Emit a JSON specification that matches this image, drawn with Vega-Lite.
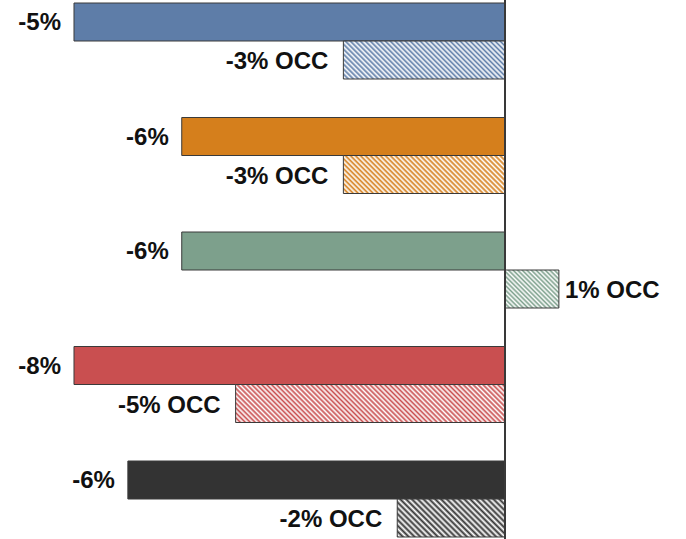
{
"$schema": "https://vega.github.io/schema/vega-lite/v6.json",
"width": 686, "height": 539, "autosize": {"type": "none"}, "padding": 0,
"background": "white",
"config": {"view": {"stroke": null}},
"data": {"values": [
{"region": "R1", "kind": "main", "value": -8, "label": "-5%"},
{"region": "R1", "kind": "occ", "value": -3, "label": "-3% OCC"},
{"region": "R2", "kind": "main", "value": -6, "label": "-6%"},
{"region": "R2", "kind": "occ", "value": -3, "label": "-3% OCC"},
{"region": "R3", "kind": "main", "value": -6, "label": "-6%"},
{"region": "R3", "kind": "occ", "value": 1, "label": "1% OCC"},
{"region": "R4", "kind": "main", "value": -8, "label": "-8%"},
{"region": "R4", "kind": "occ", "value": -5, "label": "-5% OCC"},
{"region": "R5", "kind": "main", "value": -7, "label": "-6%"},
{"region": "R5", "kind": "occ", "value": -2, "label": "-2% OCC"}
]},
"layer": [
{
"encoding": {
"y": {"field": "region", "type": "nominal", "axis": null, "scale": {"domain": ["R1","R2","R3","R4","R5"], "range": [3, 575.5], "paddingInner": 0, "paddingOuter": 0}},
"yOffset": {"field": "kind", "type": "nominal", "scale": {"domain": ["main","occ"], "range": [0, 76], "paddingInner": 0, "paddingOuter": 0}},
"x": {"field": "value", "type": "quantitative", "axis": null, "scale": {"domain": [-9.3735, 3.3596], "nice": false, "zero": false}}
},
"layer": [
{
"mark": {"type": "bar", "stroke": "#3a3a3a", "strokeWidth": 1, "fillOpacity": 1},
"encoding": {
"fill": {
"condition": [
{"test": "datum.region==='R1' && datum.kind==='occ'", "value": {"gradient": "linear", "x1": 0, "y1": 1, "x2": 1.1704, "y2": 0.7248, "stops": [{"offset":0,"color":"#5e7da8"},{"offset":0.0125,"color":"#fff"},{"offset":0.025,"color":"#5e7da8"},{"offset":0.0375,"color":"#fff"},{"offset":0.05,"color":"#5e7da8"},{"offset":0.0625,"color":"#fff"},{"offset":0.075,"color":"#5e7da8"},{"offset":0.0875,"color":"#fff"},{"offset":0.1,"color":"#5e7da8"},{"offset":0.1125,"color":"#fff"},{"offset":0.125,"color":"#5e7da8"},{"offset":0.1375,"color":"#fff"},{"offset":0.15,"color":"#5e7da8"},{"offset":0.1625,"color":"#fff"},{"offset":0.175,"color":"#5e7da8"},{"offset":0.1875,"color":"#fff"},{"offset":0.2,"color":"#5e7da8"},{"offset":0.2125,"color":"#fff"},{"offset":0.225,"color":"#5e7da8"},{"offset":0.2375,"color":"#fff"},{"offset":0.25,"color":"#5e7da8"},{"offset":0.2625,"color":"#fff"},{"offset":0.275,"color":"#5e7da8"},{"offset":0.2875,"color":"#fff"},{"offset":0.3,"color":"#5e7da8"},{"offset":0.3125,"color":"#fff"},{"offset":0.325,"color":"#5e7da8"},{"offset":0.3375,"color":"#fff"},{"offset":0.35,"color":"#5e7da8"},{"offset":0.3625,"color":"#fff"},{"offset":0.375,"color":"#5e7da8"},{"offset":0.3875,"color":"#fff"},{"offset":0.4,"color":"#5e7da8"},{"offset":0.4125,"color":"#fff"},{"offset":0.425,"color":"#5e7da8"},{"offset":0.4375,"color":"#fff"},{"offset":0.45,"color":"#5e7da8"},{"offset":0.4625,"color":"#fff"},{"offset":0.475,"color":"#5e7da8"},{"offset":0.4875,"color":"#fff"},{"offset":0.5,"color":"#5e7da8"},{"offset":0.5125,"color":"#fff"},{"offset":0.525,"color":"#5e7da8"},{"offset":0.5375,"color":"#fff"},{"offset":0.55,"color":"#5e7da8"},{"offset":0.5625,"color":"#fff"},{"offset":0.575,"color":"#5e7da8"},{"offset":0.5875,"color":"#fff"},{"offset":0.6,"color":"#5e7da8"},{"offset":0.6125,"color":"#fff"},{"offset":0.625,"color":"#5e7da8"},{"offset":0.6375,"color":"#fff"},{"offset":0.65,"color":"#5e7da8"},{"offset":0.6625,"color":"#fff"},{"offset":0.675,"color":"#5e7da8"},{"offset":0.6875,"color":"#fff"},{"offset":0.7,"color":"#5e7da8"},{"offset":0.7125,"color":"#fff"},{"offset":0.725,"color":"#5e7da8"},{"offset":0.7375,"color":"#fff"},{"offset":0.75,"color":"#5e7da8"},{"offset":0.7625,"color":"#fff"},{"offset":0.775,"color":"#5e7da8"},{"offset":0.7875,"color":"#fff"},{"offset":0.8,"color":"#5e7da8"},{"offset":0.8125,"color":"#fff"},{"offset":0.825,"color":"#5e7da8"},{"offset":0.8375,"color":"#fff"},{"offset":0.85,"color":"#5e7da8"},{"offset":0.8625,"color":"#fff"},{"offset":0.875,"color":"#5e7da8"},{"offset":0.8875,"color":"#fff"},{"offset":0.9,"color":"#5e7da8"},{"offset":0.9125,"color":"#fff"},{"offset":0.925,"color":"#5e7da8"},{"offset":0.9375,"color":"#fff"},{"offset":0.95,"color":"#5e7da8"},{"offset":0.9625,"color":"#fff"},{"offset":0.975,"color":"#5e7da8"},{"offset":0.9875,"color":"#fff"},{"offset":1,"color":"#5e7da8"}]}},
{"test": "datum.region==='R2' && datum.kind==='occ'", "value": {"gradient": "linear", "x1": 0, "y1": 1, "x2": 1.1704, "y2": 0.7248, "stops": [{"offset":0,"color":"#d57f1c"},{"offset":0.0125,"color":"#fff"},{"offset":0.025,"color":"#d57f1c"},{"offset":0.0375,"color":"#fff"},{"offset":0.05,"color":"#d57f1c"},{"offset":0.0625,"color":"#fff"},{"offset":0.075,"color":"#d57f1c"},{"offset":0.0875,"color":"#fff"},{"offset":0.1,"color":"#d57f1c"},{"offset":0.1125,"color":"#fff"},{"offset":0.125,"color":"#d57f1c"},{"offset":0.1375,"color":"#fff"},{"offset":0.15,"color":"#d57f1c"},{"offset":0.1625,"color":"#fff"},{"offset":0.175,"color":"#d57f1c"},{"offset":0.1875,"color":"#fff"},{"offset":0.2,"color":"#d57f1c"},{"offset":0.2125,"color":"#fff"},{"offset":0.225,"color":"#d57f1c"},{"offset":0.2375,"color":"#fff"},{"offset":0.25,"color":"#d57f1c"},{"offset":0.2625,"color":"#fff"},{"offset":0.275,"color":"#d57f1c"},{"offset":0.2875,"color":"#fff"},{"offset":0.3,"color":"#d57f1c"},{"offset":0.3125,"color":"#fff"},{"offset":0.325,"color":"#d57f1c"},{"offset":0.3375,"color":"#fff"},{"offset":0.35,"color":"#d57f1c"},{"offset":0.3625,"color":"#fff"},{"offset":0.375,"color":"#d57f1c"},{"offset":0.3875,"color":"#fff"},{"offset":0.4,"color":"#d57f1c"},{"offset":0.4125,"color":"#fff"},{"offset":0.425,"color":"#d57f1c"},{"offset":0.4375,"color":"#fff"},{"offset":0.45,"color":"#d57f1c"},{"offset":0.4625,"color":"#fff"},{"offset":0.475,"color":"#d57f1c"},{"offset":0.4875,"color":"#fff"},{"offset":0.5,"color":"#d57f1c"},{"offset":0.5125,"color":"#fff"},{"offset":0.525,"color":"#d57f1c"},{"offset":0.5375,"color":"#fff"},{"offset":0.55,"color":"#d57f1c"},{"offset":0.5625,"color":"#fff"},{"offset":0.575,"color":"#d57f1c"},{"offset":0.5875,"color":"#fff"},{"offset":0.6,"color":"#d57f1c"},{"offset":0.6125,"color":"#fff"},{"offset":0.625,"color":"#d57f1c"},{"offset":0.6375,"color":"#fff"},{"offset":0.65,"color":"#d57f1c"},{"offset":0.6625,"color":"#fff"},{"offset":0.675,"color":"#d57f1c"},{"offset":0.6875,"color":"#fff"},{"offset":0.7,"color":"#d57f1c"},{"offset":0.7125,"color":"#fff"},{"offset":0.725,"color":"#d57f1c"},{"offset":0.7375,"color":"#fff"},{"offset":0.75,"color":"#d57f1c"},{"offset":0.7625,"color":"#fff"},{"offset":0.775,"color":"#d57f1c"},{"offset":0.7875,"color":"#fff"},{"offset":0.8,"color":"#d57f1c"},{"offset":0.8125,"color":"#fff"},{"offset":0.825,"color":"#d57f1c"},{"offset":0.8375,"color":"#fff"},{"offset":0.85,"color":"#d57f1c"},{"offset":0.8625,"color":"#fff"},{"offset":0.875,"color":"#d57f1c"},{"offset":0.8875,"color":"#fff"},{"offset":0.9,"color":"#d57f1c"},{"offset":0.9125,"color":"#fff"},{"offset":0.925,"color":"#d57f1c"},{"offset":0.9375,"color":"#fff"},{"offset":0.95,"color":"#d57f1c"},{"offset":0.9625,"color":"#fff"},{"offset":0.975,"color":"#d57f1c"},{"offset":0.9875,"color":"#fff"},{"offset":1,"color":"#d57f1c"}]}},
{"test": "datum.region==='R3' && datum.kind==='occ'", "value": {"gradient": "linear", "x1": 0, "y1": 1, "x2": 1.1388, "y2": 0.1968, "stops": [{"offset":0,"color":"#7da08c"},{"offset":0.025,"color":"#fff"},{"offset":0.05,"color":"#7da08c"},{"offset":0.075,"color":"#fff"},{"offset":0.1,"color":"#7da08c"},{"offset":0.125,"color":"#fff"},{"offset":0.15,"color":"#7da08c"},{"offset":0.175,"color":"#fff"},{"offset":0.2,"color":"#7da08c"},{"offset":0.225,"color":"#fff"},{"offset":0.25,"color":"#7da08c"},{"offset":0.275,"color":"#fff"},{"offset":0.3,"color":"#7da08c"},{"offset":0.325,"color":"#fff"},{"offset":0.35,"color":"#7da08c"},{"offset":0.375,"color":"#fff"},{"offset":0.4,"color":"#7da08c"},{"offset":0.425,"color":"#fff"},{"offset":0.45,"color":"#7da08c"},{"offset":0.475,"color":"#fff"},{"offset":0.5,"color":"#7da08c"},{"offset":0.525,"color":"#fff"},{"offset":0.55,"color":"#7da08c"},{"offset":0.575,"color":"#fff"},{"offset":0.6,"color":"#7da08c"},{"offset":0.625,"color":"#fff"},{"offset":0.65,"color":"#7da08c"},{"offset":0.675,"color":"#fff"},{"offset":0.7,"color":"#7da08c"},{"offset":0.725,"color":"#fff"},{"offset":0.75,"color":"#7da08c"},{"offset":0.775,"color":"#fff"},{"offset":0.8,"color":"#7da08c"},{"offset":0.825,"color":"#fff"},{"offset":0.85,"color":"#7da08c"},{"offset":0.875,"color":"#fff"},{"offset":0.9,"color":"#7da08c"},{"offset":0.925,"color":"#fff"},{"offset":0.95,"color":"#7da08c"},{"offset":0.975,"color":"#fff"},{"offset":1,"color":"#7da08c"}]}},
{"test": "datum.region==='R4' && datum.kind==='occ'", "value": {"gradient": "linear", "x1": 0, "y1": 1, "x2": 1.1188, "y2": 0.8422, "stops": [{"offset":0,"color":"#c94f50"},{"offset":0.008,"color":"#fff"},{"offset":0.016,"color":"#c94f50"},{"offset":0.024,"color":"#fff"},{"offset":0.032,"color":"#c94f50"},{"offset":0.04,"color":"#fff"},{"offset":0.048,"color":"#c94f50"},{"offset":0.056,"color":"#fff"},{"offset":0.064,"color":"#c94f50"},{"offset":0.072,"color":"#fff"},{"offset":0.08,"color":"#c94f50"},{"offset":0.088,"color":"#fff"},{"offset":0.096,"color":"#c94f50"},{"offset":0.104,"color":"#fff"},{"offset":0.112,"color":"#c94f50"},{"offset":0.12,"color":"#fff"},{"offset":0.128,"color":"#c94f50"},{"offset":0.136,"color":"#fff"},{"offset":0.144,"color":"#c94f50"},{"offset":0.152,"color":"#fff"},{"offset":0.16,"color":"#c94f50"},{"offset":0.168,"color":"#fff"},{"offset":0.176,"color":"#c94f50"},{"offset":0.184,"color":"#fff"},{"offset":0.192,"color":"#c94f50"},{"offset":0.2,"color":"#fff"},{"offset":0.208,"color":"#c94f50"},{"offset":0.216,"color":"#fff"},{"offset":0.224,"color":"#c94f50"},{"offset":0.232,"color":"#fff"},{"offset":0.24,"color":"#c94f50"},{"offset":0.248,"color":"#fff"},{"offset":0.256,"color":"#c94f50"},{"offset":0.264,"color":"#fff"},{"offset":0.272,"color":"#c94f50"},{"offset":0.28,"color":"#fff"},{"offset":0.288,"color":"#c94f50"},{"offset":0.296,"color":"#fff"},{"offset":0.304,"color":"#c94f50"},{"offset":0.312,"color":"#fff"},{"offset":0.32,"color":"#c94f50"},{"offset":0.328,"color":"#fff"},{"offset":0.336,"color":"#c94f50"},{"offset":0.344,"color":"#fff"},{"offset":0.352,"color":"#c94f50"},{"offset":0.36,"color":"#fff"},{"offset":0.368,"color":"#c94f50"},{"offset":0.376,"color":"#fff"},{"offset":0.384,"color":"#c94f50"},{"offset":0.392,"color":"#fff"},{"offset":0.4,"color":"#c94f50"},{"offset":0.408,"color":"#fff"},{"offset":0.416,"color":"#c94f50"},{"offset":0.424,"color":"#fff"},{"offset":0.432,"color":"#c94f50"},{"offset":0.44,"color":"#fff"},{"offset":0.448,"color":"#c94f50"},{"offset":0.456,"color":"#fff"},{"offset":0.464,"color":"#c94f50"},{"offset":0.472,"color":"#fff"},{"offset":0.48,"color":"#c94f50"},{"offset":0.488,"color":"#fff"},{"offset":0.496,"color":"#c94f50"},{"offset":0.504,"color":"#fff"},{"offset":0.512,"color":"#c94f50"},{"offset":0.52,"color":"#fff"},{"offset":0.528,"color":"#c94f50"},{"offset":0.536,"color":"#fff"},{"offset":0.544,"color":"#c94f50"},{"offset":0.552,"color":"#fff"},{"offset":0.56,"color":"#c94f50"},{"offset":0.568,"color":"#fff"},{"offset":0.576,"color":"#c94f50"},{"offset":0.584,"color":"#fff"},{"offset":0.592,"color":"#c94f50"},{"offset":0.6,"color":"#fff"},{"offset":0.608,"color":"#c94f50"},{"offset":0.616,"color":"#fff"},{"offset":0.624,"color":"#c94f50"},{"offset":0.632,"color":"#fff"},{"offset":0.64,"color":"#c94f50"},{"offset":0.648,"color":"#fff"},{"offset":0.656,"color":"#c94f50"},{"offset":0.664,"color":"#fff"},{"offset":0.672,"color":"#c94f50"},{"offset":0.68,"color":"#fff"},{"offset":0.688,"color":"#c94f50"},{"offset":0.696,"color":"#fff"},{"offset":0.704,"color":"#c94f50"},{"offset":0.712,"color":"#fff"},{"offset":0.72,"color":"#c94f50"},{"offset":0.728,"color":"#fff"},{"offset":0.736,"color":"#c94f50"},{"offset":0.744,"color":"#fff"},{"offset":0.752,"color":"#c94f50"},{"offset":0.76,"color":"#fff"},{"offset":0.768,"color":"#c94f50"},{"offset":0.776,"color":"#fff"},{"offset":0.784,"color":"#c94f50"},{"offset":0.792,"color":"#fff"},{"offset":0.8,"color":"#c94f50"},{"offset":0.808,"color":"#fff"},{"offset":0.816,"color":"#c94f50"},{"offset":0.824,"color":"#fff"},{"offset":0.832,"color":"#c94f50"},{"offset":0.84,"color":"#fff"},{"offset":0.848,"color":"#c94f50"},{"offset":0.856,"color":"#fff"},{"offset":0.864,"color":"#c94f50"},{"offset":0.872,"color":"#fff"},{"offset":0.88,"color":"#c94f50"},{"offset":0.888,"color":"#fff"},{"offset":0.896,"color":"#c94f50"},{"offset":0.904,"color":"#fff"},{"offset":0.912,"color":"#c94f50"},{"offset":0.92,"color":"#fff"},{"offset":0.928,"color":"#c94f50"},{"offset":0.936,"color":"#fff"},{"offset":0.944,"color":"#c94f50"},{"offset":0.952,"color":"#fff"},{"offset":0.96,"color":"#c94f50"},{"offset":0.968,"color":"#fff"},{"offset":0.976,"color":"#c94f50"},{"offset":0.984,"color":"#fff"},{"offset":0.992,"color":"#c94f50"},{"offset":1,"color":"#fff"}]}},
{"test": "datum.region==='R5' && datum.kind==='occ'", "value": {"gradient": "linear", "x1": 0, "y1": 1, "x2": 1.2030, "y2": 0.5757, "stops": [{"offset":0,"color":"#333333"},{"offset":0.02,"color":"#fff"},{"offset":0.04,"color":"#333333"},{"offset":0.06,"color":"#fff"},{"offset":0.08,"color":"#333333"},{"offset":0.1,"color":"#fff"},{"offset":0.12,"color":"#333333"},{"offset":0.14,"color":"#fff"},{"offset":0.16,"color":"#333333"},{"offset":0.18,"color":"#fff"},{"offset":0.2,"color":"#333333"},{"offset":0.22,"color":"#fff"},{"offset":0.24,"color":"#333333"},{"offset":0.26,"color":"#fff"},{"offset":0.28,"color":"#333333"},{"offset":0.3,"color":"#fff"},{"offset":0.32,"color":"#333333"},{"offset":0.34,"color":"#fff"},{"offset":0.36,"color":"#333333"},{"offset":0.38,"color":"#fff"},{"offset":0.4,"color":"#333333"},{"offset":0.42,"color":"#fff"},{"offset":0.44,"color":"#333333"},{"offset":0.46,"color":"#fff"},{"offset":0.48,"color":"#333333"},{"offset":0.5,"color":"#fff"},{"offset":0.52,"color":"#333333"},{"offset":0.54,"color":"#fff"},{"offset":0.56,"color":"#333333"},{"offset":0.58,"color":"#fff"},{"offset":0.6,"color":"#333333"},{"offset":0.62,"color":"#fff"},{"offset":0.64,"color":"#333333"},{"offset":0.66,"color":"#fff"},{"offset":0.68,"color":"#333333"},{"offset":0.7,"color":"#fff"},{"offset":0.72,"color":"#333333"},{"offset":0.74,"color":"#fff"},{"offset":0.76,"color":"#333333"},{"offset":0.78,"color":"#fff"},{"offset":0.8,"color":"#333333"},{"offset":0.82,"color":"#fff"},{"offset":0.84,"color":"#333333"},{"offset":0.86,"color":"#fff"},{"offset":0.88,"color":"#333333"},{"offset":0.9,"color":"#fff"},{"offset":0.92,"color":"#333333"},{"offset":0.94,"color":"#fff"},{"offset":0.96,"color":"#333333"},{"offset":0.98,"color":"#fff"},{"offset":1,"color":"#333333"}]}}
],
"field": "region", "type": "nominal", "legend": null,
"scale": {"domain": ["R1","R2","R3","R4","R5"], "range": ["#5e7da8","#d57f1c","#7da08c","#c94f50","#333333"]}
}
}
},
{
"transform": [{"filter": "datum.kind==='main'"}],
"mark": {"type": "text", "align": "right", "baseline": "middle", "dx": -13, "dy": 1, "font": "Liberation Sans", "fontWeight": "bold", "fontSize": 24, "color": "#111111"},
"encoding": {"text": {"field": "label"}}
},
{
"transform": [{"filter": "datum.kind==='occ' && datum.value < 0"}],
"mark": {"type": "text", "align": "right", "baseline": "middle", "dx": -15, "dy": 2, "font": "Liberation Sans", "fontWeight": "bold", "fontSize": 24, "color": "#111111"},
"encoding": {"text": {"field": "label"}}
},
{
"transform": [{"filter": "datum.kind==='occ' && datum.value > 0"}],
"mark": {"type": "text", "align": "left", "baseline": "middle", "dx": 6, "dy": 2, "font": "Liberation Sans", "fontWeight": "bold", "fontSize": 24, "color": "#111111"},
"encoding": {"text": {"field": "label"}}
}
]
},
{
"mark": {"type": "rule", "color": "#3a3a3a", "strokeWidth": 1.5},
"encoding": {"x": {"datum": 0}}
}
]
}
